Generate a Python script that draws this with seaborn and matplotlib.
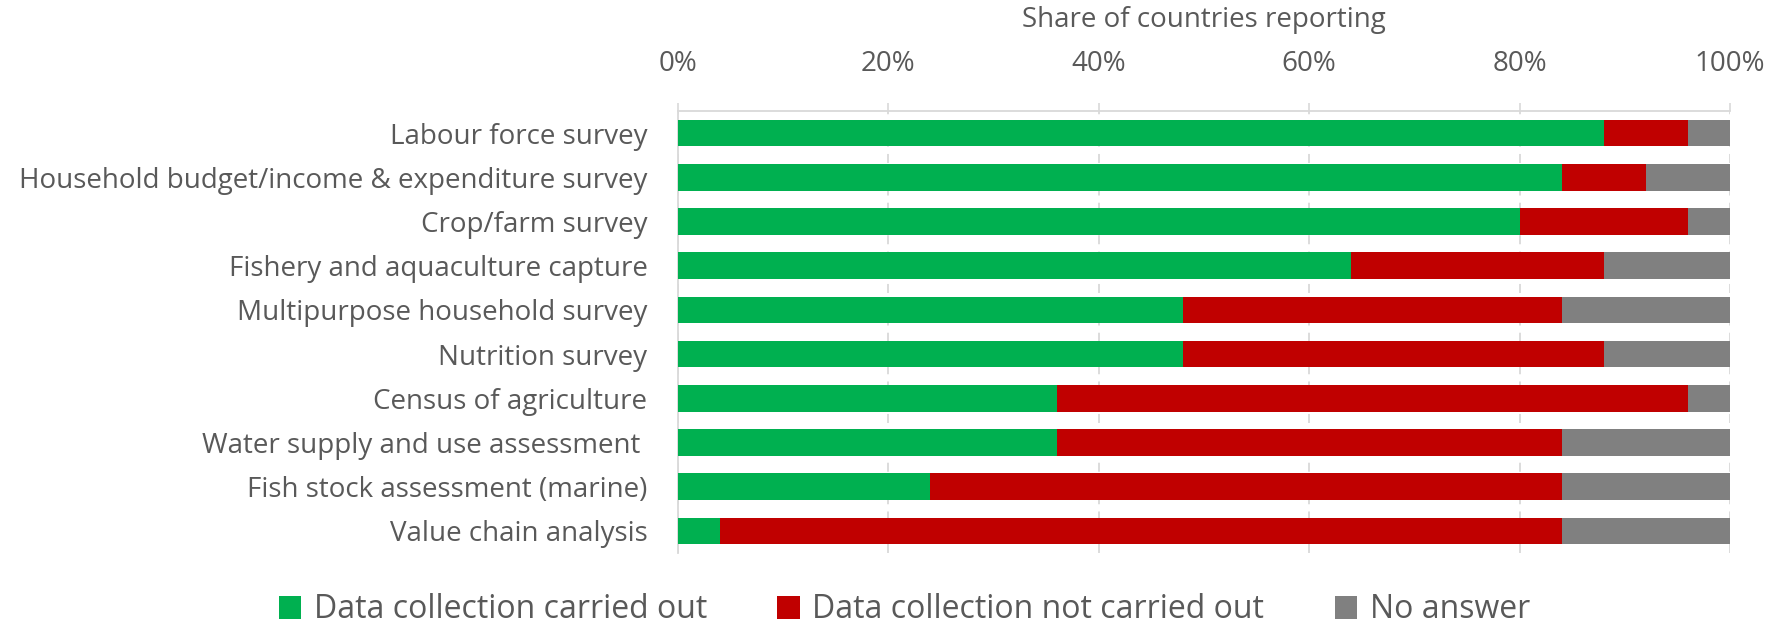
import matplotlib
matplotlib.use("Agg")
import matplotlib.pyplot as plt
from matplotlib.patches import Patch
import seaborn as sns
import pandas as pd
import numpy as np

categories = [
    "Labour force survey",
    "Household budget/income & expenditure survey",
    "Crop/farm survey",
    "Fishery and aquaculture capture",
    "Multipurpose household survey",
    "Nutrition survey",
    "Census of agriculture",
    "Water supply and use assessment ",
    "Fish stock assessment (marine)",
    "Value chain analysis",
]
carried_out = [88, 84, 80, 64, 48, 48, 36, 36, 24, 4]
not_carried_out = [8, 8, 16, 24, 36, 40, 60, 48, 60, 80]
no_answer = [4, 8, 4, 12, 16, 12, 4, 16, 16, 16]
series_names = ["Data collection carried out", "Data collection not carried out", "No answer"]
x_ticks = [0, 20, 40, 60, 80, 100]
x_tick_labels = ["0%", "20%", "40%", "60%", "80%", "100%"]

colors = ["#00B050", "#C00000", "#808080"]
text_color = "#595959"
grid_color = "#D9D9D9"

sns.set_theme(style="white")
plt.rcParams["font.family"] = ["Open Sans", "DejaVu Sans"]

df = pd.DataFrame({
    "category": categories,
    "c1": np.array(carried_out),
    "c2": np.array(carried_out) + np.array(not_carried_out),
    "c3": np.array(carried_out) + np.array(not_carried_out) + np.array(no_answer),
})

fig = plt.figure(figsize=(17.73, 6.25), dpi=100)
ax = fig.add_axes([0.3824, 0.1152, 0.5933, 0.7072])

for col, colr in zip(["c3", "c2", "c1"], [colors[2], colors[1], colors[0]]):
    sns.barplot(data=df, x=col, y="category", order=categories, color=colr,
                orient="h", width=0.6, ax=ax, saturation=1, linewidth=0, zorder=3)

ax.set_xlim(0, 100)
ax.set_ylim(len(categories) - 0.5, -0.5)
ax.xaxis.tick_top()
ax.xaxis.set_label_position("top")
ax.set_xticks(x_ticks)
ax.set_xticklabels(x_tick_labels)
ax.set_xlabel("Share of countries reporting", fontsize=20, color=text_color, labelpad=16)
ax.set_ylabel("")
ax.tick_params(axis="x", which="both", top=True, bottom=False, length=6, width=1.2,
               color=grid_color, labelsize=20, labelcolor=text_color, pad=18)
ax.tick_params(axis="y", length=0, labelsize=20, labelcolor=text_color, pad=22)

ax.grid(axis="x", color=grid_color, linestyle=(0, (5, 4)), linewidth=1.3, zorder=0)
ax.set_axisbelow(True)
for s in ["right", "bottom"]:
    ax.spines[s].set_visible(False)
for s in ["top", "left"]:
    ax.spines[s].set_color(grid_color)
    ax.spines[s].set_linewidth(1.3)

handles = [Patch(facecolor=c, edgecolor="none") for c in colors]
fig.legend(handles, series_names, loc="center", bbox_to_anchor=(0.51, 0.024), ncol=3,
           frameon=False, fontsize=23, labelcolor=text_color, handlelength=0.7,
           handleheight=0.7, handletextpad=0.4, columnspacing=2.2,
           borderpad=0, borderaxespad=0)

fig.savefig("out.png", dpi=100)
